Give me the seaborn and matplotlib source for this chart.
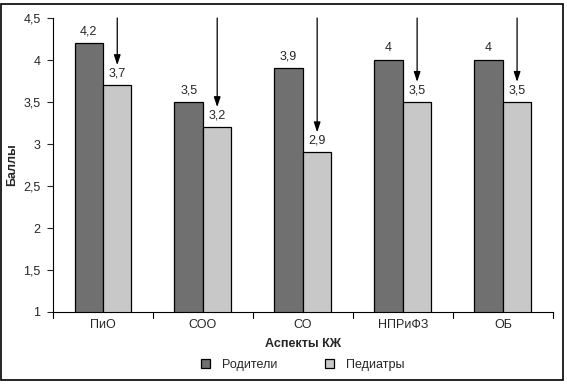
import pandas as pd
import seaborn as sns
import matplotlib.pyplot as plt
from matplotlib.patches import Rectangle

# data
aspects = ["ПиО", "СОО", "СО", "НПРиФЗ", "ОБ"]
parents = [4.2, 3.5, 3.9, 4.0, 4.0]
pediatricians = [3.7, 3.2, 2.9, 3.5, 3.5]
groups = ["Родители", "Педиатры"]
yticks = [1, 1.5, 2, 2.5, 3, 3.5, 4, 4.5]

df = pd.DataFrame({
    "aspect": aspects * 2,
    "score": parents + pediatricians,
    "group": [groups[0]] * len(aspects) + [groups[1]] * len(aspects),
})

sns.set_style("ticks")
plt.rcParams["font.family"] = ["Liberation Sans", "DejaVu Sans"]

fig = plt.figure(figsize=(5.67, 3.84), dpi=100)
ax = fig.add_axes([0.0935, 0.1875, 0.8815, 0.7655])

sns.barplot(data=df, x="aspect", y="score", hue="group",
            palette=["#707070", "#c8c8c8"], edgecolor="black", linewidth=0.9,
            width=0.57, ax=ax)

ax.set_ylim(1, 4.5)
ax.set_xlim(-0.5, len(aspects) - 0.5)
ax.set_yticks(yticks)
ax.set_yticklabels([f"{v:g}".replace(".", ",") for v in yticks], fontsize=9)
ax.set_xticks(range(len(aspects)))
ax.set_xticklabels(aspects, fontsize=9)
ax.tick_params(axis="x", length=0, pad=5)
ax.tick_params(axis="y", length=4, width=0.8, pad=5)
# tick marks between categories
for b in [i - 0.5 for i in range(len(aspects) + 1)]:
    ax.plot([b, b], [0, -0.02], transform=ax.get_xaxis_transform(),
            color="black", lw=0.8, clip_on=False)

sns.despine(ax=ax)
for s in ["left", "bottom"]:
    ax.spines[s].set_linewidth(0.8)
    ax.spines[s].set_color("black")

ax.set_xlabel("Аспекты КЖ", fontsize=9, fontweight="bold", labelpad=5)
ax.set_ylabel("Баллы", fontsize=9, fontweight="bold")
ax.yaxis.set_label_coords(-0.07, 0.5)

# value labels
for cont, vals in zip(ax.containers, [parents, pediatricians]):
    ax.bar_label(cont, labels=[f"{v:g}".replace(".", ",") for v in vals],
                 fontsize=9, padding=4)

# arrows over the pediatricians bars
for bar, v in zip(ax.containers[1], pediatricians):
    xc = bar.get_x() + bar.get_width() / 2
    ax.annotate("", xy=(xc, v + 0.24), xytext=(xc, 4.5),
                arrowprops=dict(arrowstyle="-|>,head_length=0.6,head_width=0.2",
                                color="black", lw=0.9, shrinkA=0, shrinkB=0))

ax.legend(loc="center", bbox_to_anchor=(0.5, -0.18), ncol=2,
          frameon=False, fontsize=9, handlelength=0.7, handleheight=0.7,
          columnspacing=3.8, handletextpad=1.0)

# frame around the figure
fig.patches.append(Rectangle((1 / 567, 4 / 384), 562 / 567, 376 / 384,
                             transform=fig.transFigure, fill=False,
                             edgecolor="black", lw=1.2))

plt.savefig("out.png", dpi=100)
